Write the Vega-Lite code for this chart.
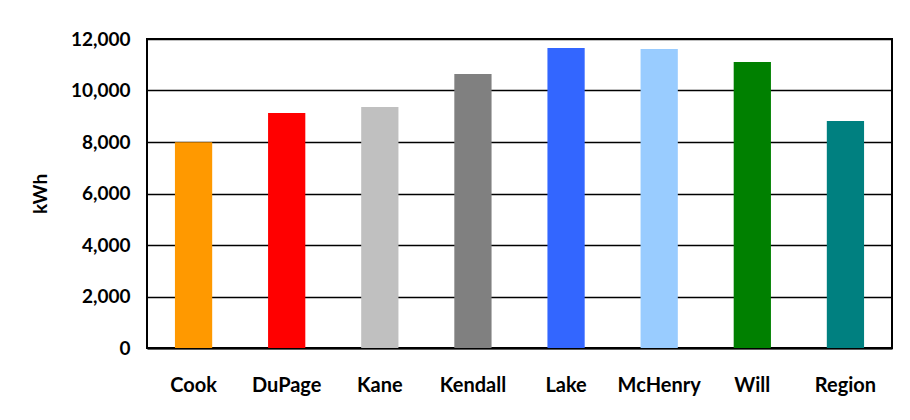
{
  "$schema": "https://vega.github.io/schema/vega-lite/v6.json",
  "width": 745,
  "height": 309,
  "autosize": "none",
  "padding": {"left": 147, "top": 39, "right": 18, "bottom": 72},
  "background": "#ffffff",
  "data": {
    "values": [
      {"county": "Cook", "kwh": 7990},
      {"county": "DuPage", "kwh": 9130},
      {"county": "Kane", "kwh": 9360},
      {"county": "Kendall", "kwh": 10640},
      {"county": "Lake", "kwh": 11650},
      {"county": "McHenry", "kwh": 11610},
      {"county": "Will", "kwh": 11110},
      {"county": "Region", "kwh": 8820}
    ]
  },
  "mark": {"type": "bar"},
  "encoding": {
    "x": {
      "field": "county",
      "type": "nominal",
      "sort": null,
      "scale": {"paddingInner": 0.6, "paddingOuter": 0.3},
      "axis": {
        "title": null,
        "labelAngle": 0,
        "labelFont": "Lato",
        "labelFontWeight": "bold",
        "labelFontSize": 20,
        "labelColor": "#000000",
        "ticks": false,
        "labelPadding": 27,
        "domainColor": "#000000",
        "domainWidth": 2
      }
    },
    "y": {
      "field": "kwh",
      "type": "quantitative",
      "scale": {"domain": [0, 12000], "nice": false},
      "axis": {
        "title": "kWh",
        "values": [0, 2000, 4000, 6000, 8000, 10000, 12000],
        "format": ",.0f",
        "labelFont": "Lato",
        "labelFontSize": 19,
        "labelFontWeight": "bold",
        "labelColor": "#000000",
        "ticks": false,
        "labelPadding": 17,
        "domain": false,
        "grid": true,
        "gridColor": "#000000",
        "gridWidth": 1.5,
        "gridOpacity": 1,
        "titleFont": "Lato",
        "titleFontSize": 19,
        "titleFontWeight": "bold",
        "titleColor": "#000000",
        "titlePadding": 20
      }
    },
    "color": {
      "field": "county",
      "type": "nominal",
      "scale": {
        "domain": ["Cook", "DuPage", "Kane", "Kendall", "Lake", "McHenry", "Will", "Region"],
        "range": ["#FF9900", "#FF0000", "#C0C0C0", "#808080", "#3366FF", "#99CCFF", "#008000", "#008080"]
      },
      "legend": null
    }
  },
  "config": {
    "view": {"stroke": "#000000", "strokeWidth": 2}
  }
}
